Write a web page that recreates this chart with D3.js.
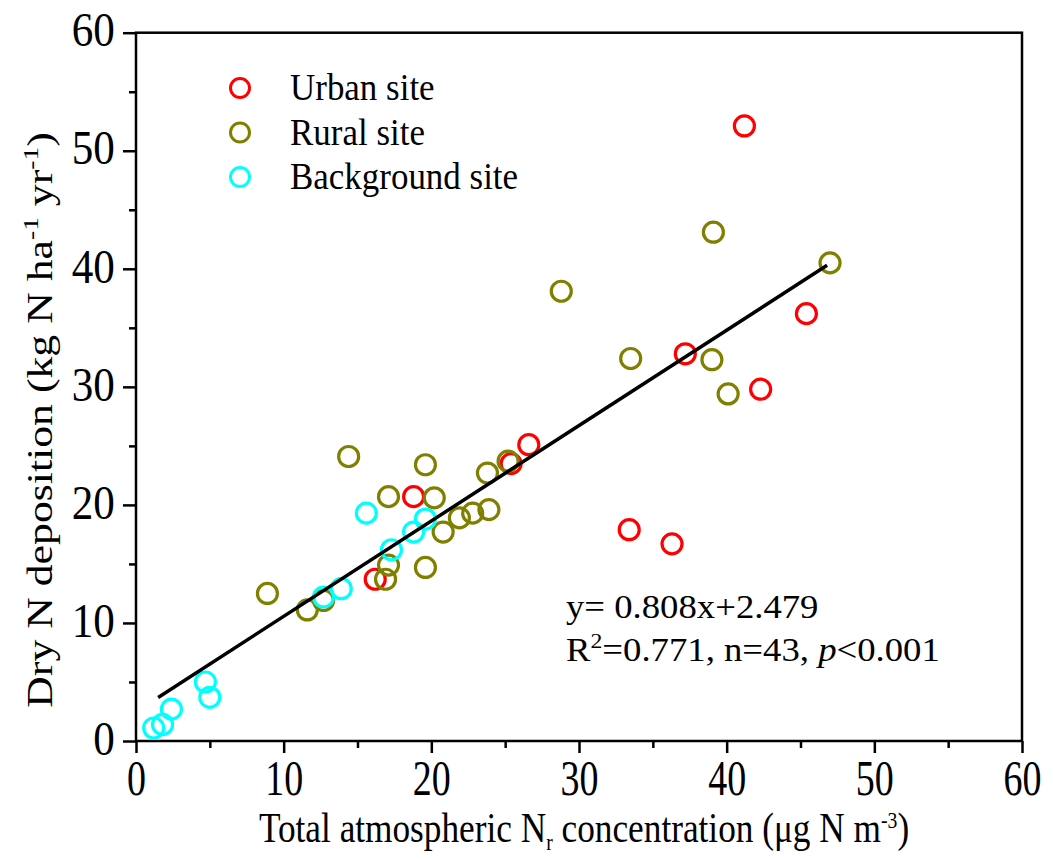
<!DOCTYPE html>
<html><head><meta charset="utf-8">
<script src="https://cdn.jsdelivr.net/npm/d3@7"></script>
<style>
html,body{margin:0;padding:0;background:#fff;}
svg text{font-family:"Liberation Serif","Times New Roman",serif;fill:#000;}
</style></head>
<body>
<svg id="chart" width="1053" height="859"></svg>
<script>
// ---- data ----
const urbanX = [41.2, 45.4, 37.2, 42.3, 26.6, 25.4, 18.8, 16.2, 33.4, 36.3];
const urbanY = [52.1, 36.2, 32.8, 29.8, 25.1, 23.5, 20.7, 13.7, 17.9, 16.7];
const ruralX = [47.0, 39.1, 28.8, 33.5, 39.0, 40.1, 14.4, 19.6, 23.8, 25.2, 17.1, 20.2, 20.8, 21.9, 22.8, 23.9, 19.6, 17.1, 16.9, 8.9, 11.6, 12.7];
const ruralY = [40.5, 43.1, 38.1, 32.4, 32.3, 29.4, 24.1, 23.4, 22.7, 23.7, 20.7, 20.6, 17.7, 18.9, 19.3, 19.6, 14.7, 14.9, 13.7, 12.5, 11.1, 11.9];
const bgX = [15.6, 19.6, 18.8, 17.3, 13.9, 12.7, 4.7, 5.0, 2.4, 1.8, 1.2];
const bgY = [19.3, 18.8, 17.7, 16.2, 12.9, 12.2, 5.0, 3.7, 2.7, 1.4, 1.1];
const seriesNames = ["Urban site", "Rural site", "Background site"];
const seriesColors = ["#ff0000", "#808000", "#00ffff"];
const fitSlope = 0.808, fitIntercept = 2.479;
const fitRange = [1.5, 46.8];
const majorTicks = [0, 10, 20, 30, 40, 50, 60];
const minorTicks = [5, 15, 25, 35, 45, 55];

// ---- layout ----
const svg = d3.select("#chart");
const L = 136, R = 1022, T = 32.7, B = 741;
const x = d3.scaleLinear().domain([0, 60]).range([L, R]);
const y = d3.scaleLinear().domain([0, 60]).range([B, T]);

// axes
const gxMinor = svg.append("g").attr("transform", `translate(0,${B})`)
  .call(d3.axisBottom(x).tickValues(minorTicks).tickSize(7).tickFormat(""));
const gx = svg.append("g").attr("transform", `translate(0,${B})`)
  .call(d3.axisBottom(x).tickValues(majorTicks).tickSize(12).tickFormat(d3.format("d")));
const gyMinor = svg.append("g").attr("transform", `translate(${L},0)`)
  .call(d3.axisLeft(y).tickValues(minorTicks).tickSize(7).tickFormat(""));
const gy = svg.append("g").attr("transform", `translate(${L},0)`)
  .call(d3.axisLeft(y).tickValues(majorTicks).tickSize(13).tickFormat(d3.format("d")));
[gxMinor, gx, gyMinor, gy].forEach(g => {
  g.select(".domain").remove();
  g.selectAll(".tick line").attr("stroke", "#000").attr("stroke-width", 2.5);
});
gx.selectAll(".tick text").attr("font-size", 50).attr("y", 54).attr("dy", null)
  .attr("transform", "scale(0.76,1)")
  .style("font-family", '"Liberation Serif",serif').attr("fill", "#000");
gy.selectAll(".tick text").attr("font-size", 49).attr("x", -24).attr("dy", "0.27em")
  .attr("transform", "scale(0.88,1)")
  .style("font-family", '"Liberation Serif",serif').attr("fill", "#000");

// frame
svg.append("rect").attr("x", L).attr("y", T).attr("width", R - L).attr("height", B - T)
  .attr("fill", "none").attr("stroke", "#000").attr("stroke-width", 2.5);

// points
const series = [
  urbanX.map((v, i) => [v, urbanY[i]]),
  ruralX.map((v, i) => [v, ruralY[i]]),
  bgX.map((v, i) => [v, bgY[i]])
];
series.forEach((pts, s) => {
  svg.append("g").selectAll("circle").data(pts).join("circle")
    .attr("cx", d => x(d[0])).attr("cy", d => y(d[1])).attr("r", 10)
    .attr("fill", "none").attr("stroke", seriesColors[s]).attr("stroke-width", 3.2);
});

// regression line
svg.append("line")
  .attr("x1", x(fitRange[0])).attr("y1", y(fitSlope * fitRange[0] + fitIntercept))
  .attr("x2", x(fitRange[1])).attr("y2", y(fitSlope * fitRange[1] + fitIntercept))
  .attr("stroke", "#000").attr("stroke-width", 3.5);

// legend
const lg = svg.append("g");
seriesNames.forEach((n, i) => {
  const cy = 88 + i * 44.5;
  lg.append("circle").attr("cx", 240).attr("cy", cy).attr("r", 9.5)
    .attr("fill", "none").attr("stroke", seriesColors[i]).attr("stroke-width", 3);
  lg.append("text").attr("transform", `translate(290,${cy + 12}) scale(0.92,1)`)
    .attr("font-size", 38).text(n);
});

// annotation
svg.append("text").attr("transform", "translate(566,618) scale(1.08,1)").attr("font-size", 34).text("y= 0.808x+2.479");
const t2 = svg.append("text").attr("transform", "translate(566,661) scale(1.08,1)").attr("font-size", 34);
t2.append("tspan").text("R");
t2.append("tspan").attr("dy", -13).attr("font-size", 22).text("2");
t2.append("tspan").attr("dy", 13).text("=0.771, n=43, ");
t2.append("tspan").attr("font-style", "italic").text("p");
t2.append("tspan").text("<0.001");

// x title
const xt = svg.append("text").attr("transform", "translate(584,842) scale(0.82,1)")
  .attr("text-anchor", "middle").attr("font-size", 43);
xt.append("tspan").text("Total atmospheric N");
xt.append("tspan").attr("dy", 8).attr("font-size", 24).text("r");
xt.append("tspan").attr("dy", -8).text(" concentration (μg N m");
xt.append("tspan").attr("dy", -14).attr("font-size", 24).text("-3");
xt.append("tspan").attr("dy", 14).text(")");

// y title
const yt = svg.append("text").attr("transform", "translate(52,420) rotate(-90) scale(1.25,1)")
  .attr("text-anchor", "middle").attr("font-size", 35);
yt.append("tspan").text("Dry N deposition (kg N ha");
yt.append("tspan").attr("dy", -14).attr("font-size", 22).text("-1");
yt.append("tspan").attr("dy", 14).text(" yr");
yt.append("tspan").attr("dy", -14).attr("font-size", 22).text("-1");
yt.append("tspan").attr("dy", 14).text(")");
</script>
</body></html>
